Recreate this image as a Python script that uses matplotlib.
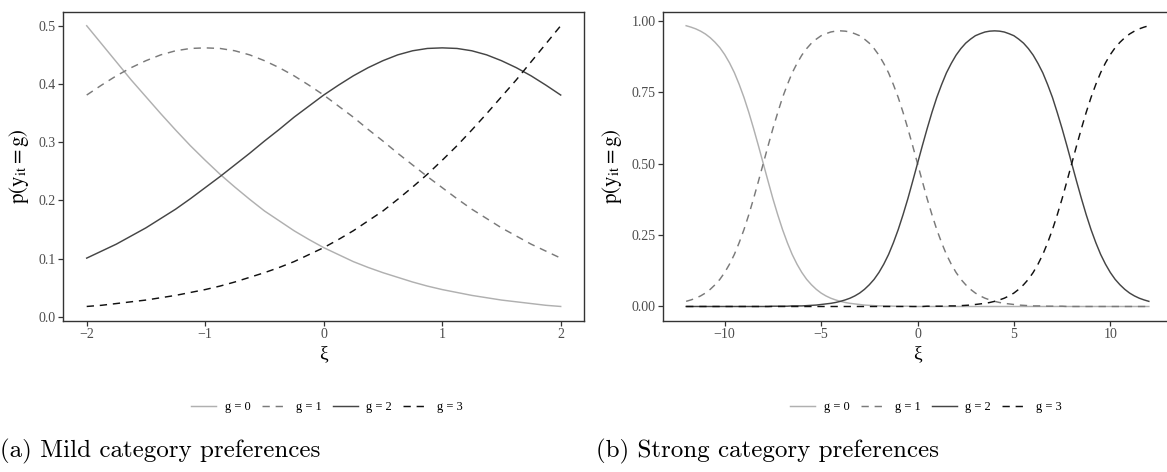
import matplotlib
matplotlib.use("Agg")
import matplotlib.pyplot as plt
from matplotlib.lines import Line2D

plt.rcParams['font.family'] = ['Liberation Serif', 'DejaVu Serif']
plt.rcParams['mathtext.fontset'] = 'stix'

# ---- data: mild panel (xi step 0.125) ----
xi_mild = [-2.0, -1.875, -1.75, -1.625, -1.5, -1.375, -1.25, -1.125, -1.0,
           -0.875, -0.75, -0.625, -0.5, -0.375, -0.25, -0.125, 0.0,
           0.125, 0.25, 0.375, 0.5, 0.625, 0.75, 0.875, 1.0,
           1.125, 1.25, 1.375, 1.5, 1.625, 1.75, 1.875, 2.0]
mild_g0 = [0.500, 0.469, 0.438, 0.407, 0.378, 0.349, 0.321, 0.294, 0.269,
           0.245, 0.223, 0.202, 0.182, 0.165, 0.148, 0.133, 0.119,
           0.107, 0.095, 0.085, 0.076, 0.068, 0.060, 0.053, 0.047,
           0.042, 0.037, 0.033, 0.029, 0.026, 0.023, 0.020, 0.018]
mild_g1 = [0.381, 0.398, 0.414, 0.428, 0.440, 0.450, 0.457, 0.461, 0.462,
           0.461, 0.457, 0.450, 0.440, 0.428, 0.414, 0.398, 0.381,
           0.362, 0.343, 0.322, 0.302, 0.281, 0.261, 0.241, 0.222,
           0.203, 0.185, 0.169, 0.153, 0.139, 0.125, 0.113, 0.101]
mild_g2 = [0.101, 0.113, 0.125, 0.139, 0.153, 0.169, 0.185, 0.203, 0.222,
           0.241, 0.261, 0.281, 0.302, 0.322, 0.343, 0.362, 0.381,
           0.398, 0.414, 0.428, 0.440, 0.450, 0.457, 0.461, 0.462,
           0.461, 0.457, 0.450, 0.440, 0.428, 0.414, 0.398, 0.381]
mild_g3 = [0.018, 0.020, 0.023, 0.026, 0.029, 0.033, 0.037, 0.042, 0.047,
           0.053, 0.060, 0.068, 0.076, 0.085, 0.095, 0.107, 0.119,
           0.133, 0.148, 0.165, 0.182, 0.202, 0.223, 0.245, 0.269,
           0.294, 0.321, 0.349, 0.378, 0.407, 0.438, 0.469, 0.500]

# ---- data: strong panel (xi step 0.25) ----
xi_strong = [-12.0, -11.75, -11.5, -11.25, -11.0, -10.75, -10.5, -10.25,
             -10.0, -9.75, -9.5, -9.25, -9.0, -8.75, -8.5, -8.25,
             -8.0, -7.75, -7.5, -7.25, -7.0, -6.75, -6.5, -6.25,
             -6.0, -5.75, -5.5, -5.25, -5.0, -4.75, -4.5, -4.25,
             -4.0, -3.75, -3.5, -3.25, -3.0, -2.75, -2.5, -2.25,
             -2.0, -1.75, -1.5, -1.25, -1.0, -0.75, -0.5, -0.25,
             0.0,
             0.25, 0.5, 0.75, 1.0, 1.25, 1.5, 1.75, 2.0,
             2.25, 2.5, 2.75, 3.0, 3.25, 3.5, 3.75, 4.0,
             4.25, 4.5, 4.75, 5.0, 5.25, 5.5, 5.75, 6.0,
             6.25, 6.5, 6.75, 7.0, 7.25, 7.5, 7.75, 8.0,
             8.25, 8.5, 8.75, 9.0, 9.25, 9.5, 9.75, 10.0,
             10.25, 10.5, 10.75, 11.0, 11.25, 11.5, 11.75, 12.0]
strong_g0 = [0.982, 0.977, 0.971, 0.963, 0.953, 0.940, 0.924, 0.905,
             0.881, 0.852, 0.818, 0.777, 0.731, 0.679, 0.622, 0.562,
             0.500, 0.438, 0.377, 0.321, 0.269, 0.223, 0.182, 0.148,
             0.119, 0.095, 0.076, 0.060, 0.047, 0.037, 0.029, 0.023,
             0.018, 0.014, 0.011, 0.009, 0.007, 0.005, 0.004, 0.003,
             0.002, 0.002, 0.002, 0.001, 0.001, 0.001, 0.001, 0.000,
             0.000,
             0.000, 0.000, 0.000, 0.000, 0.000, 0.000, 0.000, 0.000,
             0.000, 0.000, 0.000, 0.000, 0.000, 0.000, 0.000, 0.000,
             0.000, 0.000, 0.000, 0.000, 0.000, 0.000, 0.000, 0.000,
             0.000, 0.000, 0.000, 0.000, 0.000, 0.000, 0.000, 0.000,
             0.000, 0.000, 0.000, 0.000, 0.000, 0.000, 0.000, 0.000,
             0.000, 0.000, 0.000, 0.000, 0.000, 0.000, 0.000, 0.000]
strong_g1 = [0.018, 0.023, 0.029, 0.037, 0.047, 0.060, 0.076, 0.095,
             0.119, 0.148, 0.182, 0.223, 0.269, 0.321, 0.378, 0.438,
             0.500, 0.562, 0.622, 0.678, 0.731, 0.776, 0.817, 0.850,
             0.879, 0.902, 0.921, 0.935, 0.947, 0.954, 0.960, 0.963,
             0.964, 0.963, 0.960, 0.954, 0.947, 0.935, 0.921, 0.902,
             0.879, 0.850, 0.817, 0.776, 0.731, 0.679, 0.622, 0.562,
             0.500,
             0.438, 0.377, 0.321, 0.269, 0.223, 0.182, 0.148, 0.119,
             0.095, 0.076, 0.060, 0.047, 0.037, 0.029, 0.023, 0.018,
             0.014, 0.011, 0.009, 0.007, 0.005, 0.004, 0.003, 0.002,
             0.002, 0.002, 0.001, 0.001, 0.001, 0.001, 0.000, 0.000,
             0.000, 0.000, 0.000, 0.000, 0.000, 0.000, 0.000, 0.000,
             0.000, 0.000, 0.000, 0.000, 0.000, 0.000, 0.000, 0.000]
strong_g2 = [0.000, 0.000, 0.000, 0.000, 0.000, 0.000, 0.000, 0.000,
             0.000, 0.000, 0.000, 0.000, 0.000, 0.000, 0.000, 0.000,
             0.000, 0.000, 0.001, 0.001, 0.001, 0.001, 0.002, 0.002,
             0.002, 0.003, 0.004, 0.005, 0.007, 0.009, 0.011, 0.014,
             0.018, 0.023, 0.029, 0.037, 0.047, 0.060, 0.076, 0.095,
             0.119, 0.148, 0.182, 0.223, 0.269, 0.321, 0.377, 0.438,
             0.500,
             0.562, 0.622, 0.679, 0.731, 0.776, 0.817, 0.850, 0.879,
             0.902, 0.921, 0.935, 0.947, 0.954, 0.960, 0.963, 0.964,
             0.963, 0.960, 0.954, 0.947, 0.935, 0.921, 0.902, 0.879,
             0.850, 0.817, 0.776, 0.731, 0.678, 0.622, 0.562, 0.500,
             0.438, 0.378, 0.321, 0.269, 0.223, 0.182, 0.148, 0.119,
             0.095, 0.076, 0.060, 0.047, 0.037, 0.029, 0.023, 0.018]
strong_g3 = [0.000, 0.000, 0.000, 0.000, 0.000, 0.000, 0.000, 0.000,
             0.000, 0.000, 0.000, 0.000, 0.000, 0.000, 0.000, 0.000,
             0.000, 0.000, 0.000, 0.000, 0.000, 0.000, 0.000, 0.000,
             0.000, 0.000, 0.000, 0.000, 0.000, 0.000, 0.000, 0.000,
             0.000, 0.000, 0.000, 0.000, 0.000, 0.000, 0.000, 0.000,
             0.000, 0.000, 0.000, 0.000, 0.000, 0.000, 0.000, 0.000,
             0.000,
             0.000, 0.001, 0.001, 0.001, 0.001, 0.002, 0.002, 0.002,
             0.003, 0.004, 0.005, 0.007, 0.009, 0.011, 0.014, 0.018,
             0.023, 0.029, 0.037, 0.047, 0.060, 0.076, 0.095, 0.119,
             0.148, 0.182, 0.223, 0.269, 0.321, 0.377, 0.438, 0.500,
             0.562, 0.622, 0.679, 0.731, 0.777, 0.818, 0.852, 0.881,
             0.905, 0.924, 0.940, 0.953, 0.963, 0.971, 0.977, 0.982]

group_labels = ['g = 0', 'g = 1', 'g = 2', 'g = 3']
mild_xticks = [-2, -1, 0, 1, 2]
mild_yticks = [0.0, 0.1, 0.2, 0.3, 0.4, 0.5]
mild_yticklabels = ['0.0', '0.1', '0.2', '0.3', '0.4', '0.5']
strong_xticks = [-10, -5, 0, 5, 10]
strong_yticks = [0.0, 0.25, 0.5, 0.75, 1.0]
strong_yticklabels = ['0.00', '0.25', '0.50', '0.75', '1.00']
captions = ['(a) Mild category preferences', '(b) Strong category preferences']

colors = ['#b0b0b0', '#7a7a7a', '#454545', '#111111']
dash = (0, (5.0, 4.0))
styles = ['-', dash, '-', dash]
lw = 1.05

fig = plt.figure(figsize=(11.67, 4.72), dpi=100)
W, H = 1167.0, 472.0

def make_axes(l, r, t, b):
    return fig.add_axes([l / W, 1 - b / H, (r - l) / W, (b - t) / H])

ax1 = make_axes(63, 584.4, 11.7, 320.5)
ax2 = make_axes(663, 1172, 11.7, 320.5)

def style_ax(ax, xticks, yticks, yticklabels):
    for s in ax.spines.values():
        s.set_color('#333333')
        s.set_linewidth(1.0)
    ax.set_xticks(xticks)
    ax.set_xticklabels([str(t).replace('-', '\u2212') for t in xticks])
    ax.set_yticks(yticks)
    ax.set_yticklabels(yticklabels)
    ax.tick_params(axis='both', direction='out', length=3.5, width=0.9,
                   color='#333333', labelcolor='#4d4d4d', labelsize=10, pad=2)
    ax.set_xlabel('\u03be', fontsize=14, labelpad=3, color='black')
    ax.set_ylabel(r'$\mathrm{p}\left(\mathrm{y}_{\mathrm{it}} = \mathrm{g}\right)$',
                  fontsize=15, labelpad=5)

mild_series = [mild_g0, mild_g1, mild_g2, mild_g3]
strong_series = [strong_g0, strong_g1, strong_g2, strong_g3]

for i in range(4):
    ax1.plot(xi_mild, mild_series[i], color=colors[i], linestyle=styles[i], lw=lw)
    ax2.plot(xi_strong, strong_series[i], color=colors[i], linestyle=styles[i], lw=lw)

ax1.set_xlim(-2.2, 2.2)
ax1.set_ylim(-0.0061, 0.5241)
ax2.set_xlim(-13.2, 13.2)
ax2.set_ylim(-0.049, 1.031)
style_ax(ax1, mild_xticks, mild_yticks, mild_yticklabels)
style_ax(ax2, strong_xticks, strong_yticks, strong_yticklabels)

handles = [Line2D([0], [0], color=colors[i], linestyle=styles[i], lw=lw)
           for i in range(4)]
for cx in (327 / W, 926 / W):
    fig.legend(handles, group_labels, loc='center', bbox_to_anchor=(cx, 1 - 407 / H),
               ncol=4, frameon=False, fontsize=9, handlelength=2.0,
               handletextpad=0.7, columnspacing=0.9)

fig.text(0.0 / W, 1 - 451 / H, captions[0], fontsize=18, family='cmr10',
         ha='left', va='center')
fig.text(596 / W, 1 - 451 / H, captions[1], fontsize=18, family='cmr10',
         ha='left', va='center')

fig.savefig('out.png', dpi=100, facecolor='white')
